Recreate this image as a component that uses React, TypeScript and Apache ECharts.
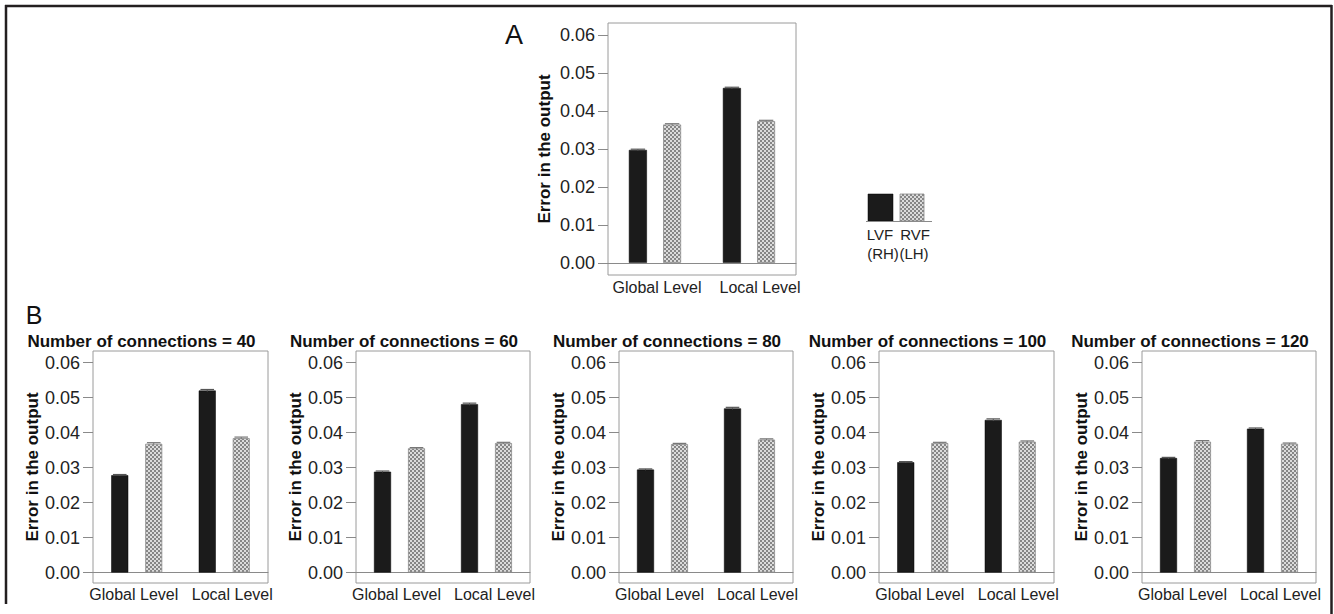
import React, { useEffect, useRef } from "react";
import * as echarts from "echarts";

// ---------------- data ----------------
const categories = ["Global Level", "Local Level"];
const yTickValues = [0, 0.01, 0.02, 0.03, 0.04, 0.05, 0.06];
const yAxisTitle = "Error in the output";
const legendNames = ["LVF", "RVF"];
const legendSubNames = ["(RH)", "(LH)"];

const A_LVF = [0.0297, 0.046];
const A_RVF = [0.0364, 0.0373];
const A_LVF_ERR = [0.0002, 0.0002];
const A_RVF_ERR = [0.0002, 0.0002];

const B40_LVF = [0.0278, 0.052];
const B40_RVF = [0.0368, 0.0384];
const B40_LVF_ERR = [0.0002, 0.0003];
const B40_RVF_ERR = [0.0003, 0.0003];

const B60_LVF = [0.0288, 0.0481];
const B60_RVF = [0.0355, 0.037];
const B60_LVF_ERR = [0.0002, 0.0003];
const B60_RVF_ERR = [0.0002, 0.0002];

const B80_LVF = [0.0294, 0.0469];
const B80_RVF = [0.0367, 0.038];
const B80_LVF_ERR = [0.0002, 0.0003];
const B80_RVF_ERR = [0.0002, 0.0002];

const B100_LVF = [0.0315, 0.0436];
const B100_RVF = [0.037, 0.0374];
const B100_LVF_ERR = [0.0002, 0.0003];
const B100_RVF_ERR = [0.0002, 0.0002];

const B120_LVF = [0.0327, 0.0411];
const B120_RVF = [0.0374, 0.0368];
const B120_LVF_ERR = [0.0002, 0.0002];
const B120_RVF_ERR = [0.0003, 0.0002];

const panelBTitles = [
  "Number of connections = 40",
  "Number of connections = 60",
  "Number of connections = 80",
  "Number of connections = 100",
  "Number of connections = 120",
];

// ---------------- layout / style ----------------
const FONT = '"Liberation Sans", Arial, Helvetica, sans-serif';

const panels = [
  { lvf: A_LVF, rvf: A_RVF, lvfErr: A_LVF_ERR, rvfErr: A_RVF_ERR, left: 608, top: 23, width: 188, height: 252, min: -0.0032, max: 0.0631, barWidth: 18, gap: 0.9, nameGap: 55, labelMargin: 4, padG: [0, 0, 0, 4], padL: [0, 0, 0, 22], title: null as string | null },
  { lvf: B40_LVF, rvf: B40_RVF, lvfErr: B40_LVF_ERR, rvfErr: B40_RVF_ERR, left: 93, top: 351, width: 175, height: 232, min: -0.003, max: 0.0633, barWidth: 17, gap: 1.0, nameGap: 52, labelMargin: 3, padG: [0, 6, 0, 0], padL: [0, 0, 0, 16], title: panelBTitles[0] },
  { lvf: B60_LVF, rvf: B60_RVF, lvfErr: B60_LVF_ERR, rvfErr: B60_RVF_ERR, left: 356, top: 351, width: 174, height: 232, min: -0.003, max: 0.0633, barWidth: 17, gap: 1.0, nameGap: 52, labelMargin: 3, padG: [0, 6, 0, 0], padL: [0, 0, 0, 16], title: panelBTitles[1] },
  { lvf: B80_LVF, rvf: B80_RVF, lvfErr: B80_LVF_ERR, rvfErr: B80_RVF_ERR, left: 619, top: 351, width: 174, height: 232, min: -0.003, max: 0.0633, barWidth: 17, gap: 1.0, nameGap: 52, labelMargin: 3, padG: [0, 6, 0, 0], padL: [0, 0, 0, 16], title: panelBTitles[2] },
  { lvf: B100_LVF, rvf: B100_RVF, lvfErr: B100_LVF_ERR, rvfErr: B100_RVF_ERR, left: 879, top: 351, width: 175, height: 232, min: -0.003, max: 0.0633, barWidth: 17, gap: 1.0, nameGap: 52, labelMargin: 3, padG: [0, 6, 0, 0], padL: [0, 0, 0, 16], title: panelBTitles[3] },
  { lvf: B120_LVF, rvf: B120_RVF, lvfErr: B120_LVF_ERR, rvfErr: B120_RVF_ERR, left: 1142, top: 351, width: 174, height: 232, min: -0.003, max: 0.0633, barWidth: 17, gap: 1.0, nameGap: 50, labelMargin: 3, padG: [0, 6, 0, 0], padL: [0, 0, 0, 16], title: panelBTitles[4] },
];

function makePattern() {
  const c = document.createElement("canvas");
  c.width = 4;
  c.height = 4;
  const ctx = c.getContext("2d")!;
  ctx.fillStyle = "#dcdcdc";
  ctx.fillRect(0, 0, 4, 4);
  ctx.fillStyle = "#868686";
  ctx.fillRect(0, 0, 2, 2);
  ctx.fillRect(2, 2, 2, 2);
  return { image: c, repeat: "repeat" as const };
}

export default function App() {
  const ref = useRef<HTMLDivElement>(null);

  useEffect(() => {
    if (!ref.current) return;
    const chart = echarts.init(ref.current, undefined, { renderer: "svg" });
    const pattern = makePattern();

    const grids: any[] = [];
    const xAxes: any[] = [];
    const yAxes: any[] = [];
    const series: any[] = [];
    const graphics: any[] = [];

    panels.forEach((p, i) => {
      grids.push({
        left: p.left,
        top: p.top,
        width: p.width,
        height: p.height,
        show: true,
        borderColor: "#9a9a9a",
        borderWidth: 1,
        backgroundColor: "transparent",
        containLabel: false,
      });
      const labelStyle = { fontSize: 16, color: "#222", fontFamily: FONT };
      xAxes.push({
        gridIndex: i,
        type: "category",
        data: categories,
        axisLine: { onZero: true, lineStyle: { color: "#8a8a8a", width: 1 } },
        axisTick: { show: false },
        axisLabel: {
          interval: 0,
          hideOverlap: false,
          ...labelStyle,
          margin: p.labelMargin,
          formatter: (v: string) => (v === categories[0] ? `{g|${v}}` : `{l|${v}}`),
          rich: {
            g: { ...labelStyle, padding: p.padG },
            l: { ...labelStyle, padding: p.padL },
          },
        },
        splitLine: { show: false },
      });
      yAxes.push({
        gridIndex: i,
        type: "value",
        min: p.min,
        max: p.max,
        axisLine: { show: false },
        axisTick: { show: true, length: 10, lineStyle: { color: "#8a8a8a" }, customValues: yTickValues },
        axisLabel: {
          customValues: yTickValues,
          formatter: (v: number) => v.toFixed(2),
          fontSize: 18,
          color: "#222",
          margin: 13,
          fontFamily: FONT,
        },
        splitLine: { show: false },
        name: yAxisTitle,
        nameLocation: "middle",
        nameGap: p.nameGap,
        nameTextStyle: { fontSize: 17, fontWeight: "bold", color: "#111", fontFamily: FONT },
      });
      const offset = (p.barWidth * (1 + p.gap)) / 2;
      series.push({
        type: "bar",
        name: legendNames[0],
        xAxisIndex: i,
        yAxisIndex: i,
        data: p.lvf,
        barWidth: p.barWidth,
        barGap: `${p.gap * 100}%`,
        itemStyle: { color: "#1b1b1b", borderColor: "#000", borderWidth: 0.5 },
        z: 2,
      });
      series.push({
        type: "bar",
        name: legendNames[1],
        xAxisIndex: i,
        yAxisIndex: i,
        data: p.rvf,
        barWidth: p.barWidth,
        barGap: `${p.gap * 100}%`,
        itemStyle: { color: pattern, borderColor: "#8c8c8c", borderWidth: 0.8 },
        z: 2,
      });
      const errSeries = (vals: number[], errs: number[], dx: number, color: string) => ({
        type: "custom",
        xAxisIndex: i,
        yAxisIndex: i,
        z: 3,
        clip: false,
        data: vals.map((v, k) => [k, v, errs[k]]),
        encode: { x: 0, y: 1 },
        renderItem: (_params: any, api: any) => {
          const k = api.value(0);
          const v = api.value(1);
          const e = api.value(2);
          const hi = api.coord([k, v + e]);
          const lo = api.coord([k, v - e]);
          const x = hi[0] + dx;
          const half = p.barWidth * 0.4;
          return {
            type: "group",
            children: [
              { type: "line", shape: { x1: x, y1: hi[1], x2: x, y2: lo[1] }, style: { stroke: color, lineWidth: 1 } },
              { type: "line", shape: { x1: x - half, y1: hi[1], x2: x + half, y2: hi[1] }, style: { stroke: color, lineWidth: 1.2 } },
            ],
          };
        },
      });
      series.push(errSeries(p.lvf, p.lvfErr, -offset, "#555"));
      series.push(errSeries(p.rvf, p.rvfErr, offset, "#777"));

      if (p.title) {
        graphics.push({
          type: "text",
          x: p.left + p.width / 2 - 39,
          y: 341,
          style: {
            text: p.title,
            font: `bold 17px ${FONT}`,
            fill: "#111",
            align: "center",
            verticalAlign: "middle",
          },
        });
      }
    });

    // outer frame
    const frameStyle = { stroke: "#231f20", lineWidth: 2.5 };
    graphics.push(
      { type: "line", shape: { x1: 5, y1: 6, x2: 1332, y2: 6 }, style: frameStyle },
      { type: "line", shape: { x1: 6, y1: 5, x2: 6, y2: 604 }, style: frameStyle },
      { type: "line", shape: { x1: 1331.5, y1: 5, x2: 1331.5, y2: 614 }, style: frameStyle }
    );
    // panel letters
    graphics.push(
      { type: "text", x: 514, y: 35, style: { text: "A", font: `27px ${FONT}`, fill: "#111", align: "center", verticalAlign: "middle" } },
      { type: "text", x: 34, y: 315, style: { text: "B", font: `25px ${FONT}`, fill: "#111", align: "center", verticalAlign: "middle" } }
    );
    // legend
    graphics.push(
      { type: "rect", shape: { x: 868, y: 194, width: 25, height: 27 }, style: { fill: "#1b1b1b", stroke: "#000", lineWidth: 0.5 } },
      { type: "rect", shape: { x: 900, y: 194, width: 24, height: 27 }, style: { fill: pattern, stroke: "#8c8c8c", lineWidth: 0.8 } },
      { type: "line", shape: { x1: 866, y1: 221.5, x2: 932, y2: 221.5 }, style: { stroke: "#8a8a8a", lineWidth: 1 } },
      { type: "text", x: 880, y: 234, style: { text: legendNames[0], font: `15px ${FONT}`, fill: "#222", align: "center", verticalAlign: "middle" } },
      { type: "text", x: 915, y: 234, style: { text: legendNames[1], font: `15px ${FONT}`, fill: "#222", align: "center", verticalAlign: "middle" } },
      { type: "text", x: 883, y: 253, style: { text: legendSubNames[0], font: `15px ${FONT}`, fill: "#222", align: "center", verticalAlign: "middle" } },
      { type: "text", x: 914, y: 253, style: { text: legendSubNames[1], font: `15px ${FONT}`, fill: "#222", align: "center", verticalAlign: "middle" } }
    );

    chart.setOption({
      animation: false,
      backgroundColor: "#ffffff",
      textStyle: { fontFamily: FONT },
      grid: grids,
      xAxis: xAxes,
      yAxis: yAxes,
      series,
      graphic: graphics,
    });

    return () => chart.dispose();
  }, []);

  return (
    <div
      ref={ref}
      style={{ position: "absolute", left: 0, top: 0, width: 1334, height: 614, background: "#fff" }}
    />
  );
}
